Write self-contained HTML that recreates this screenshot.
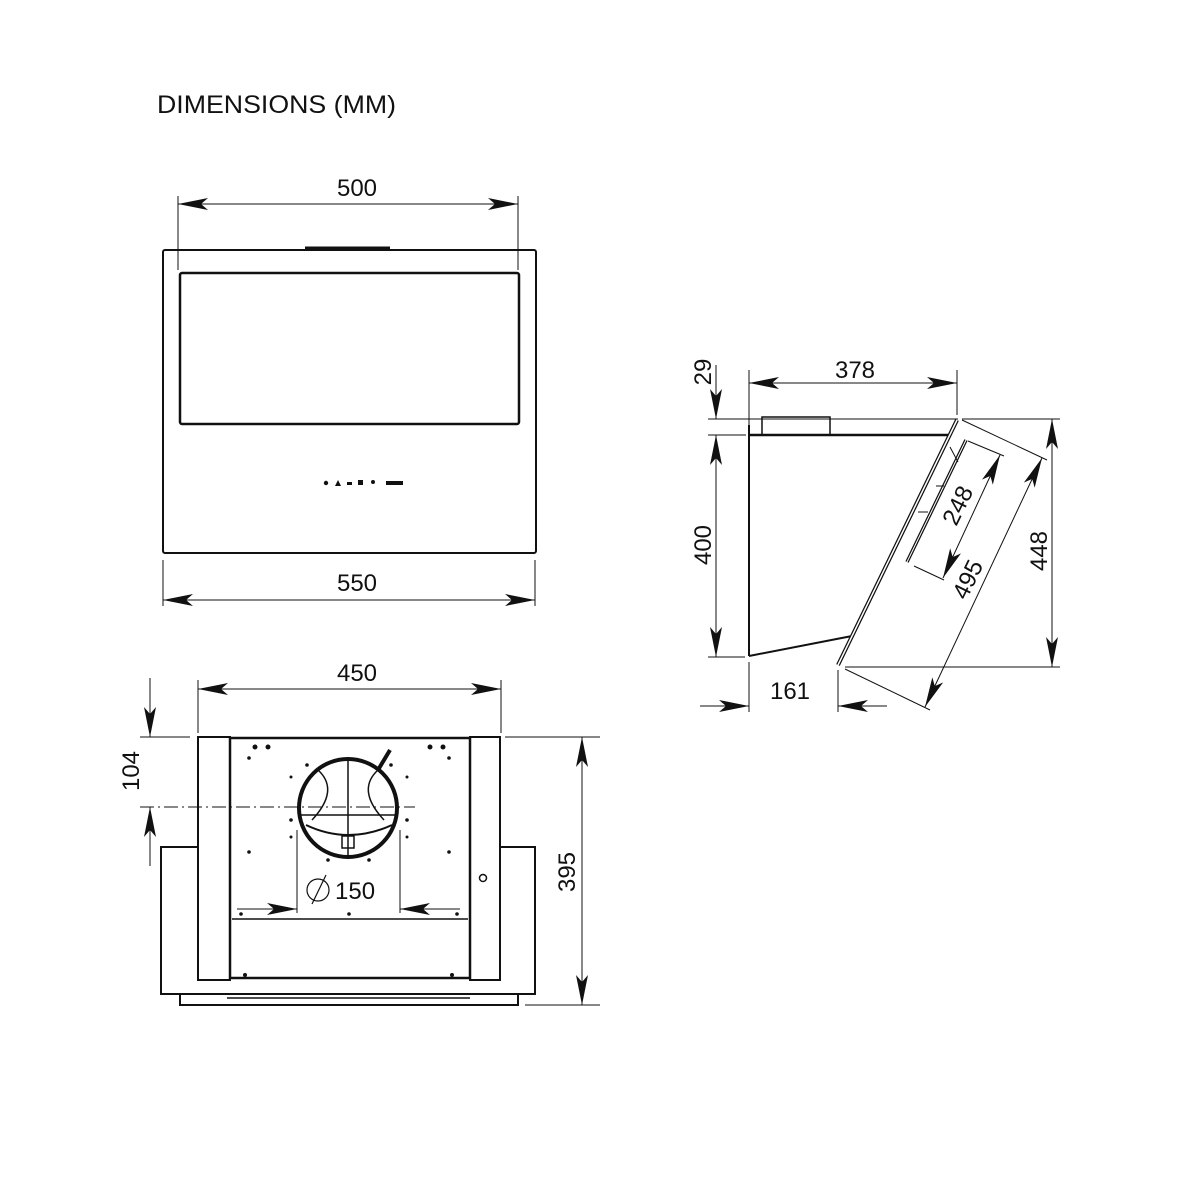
<!DOCTYPE html>
<html><head><meta charset="utf-8"><style>
html,body{margin:0;padding:0;background:#fff;}
svg{display:block;}
text{font-family:"Liberation Sans",sans-serif;fill:#111;}
</style></head><body>
<svg width="1200" height="1200" viewBox="0 0 1200 1200" xmlns="http://www.w3.org/2000/svg">
<defs>
<marker id="a" viewBox="0 0 30 12" refX="30" refY="6" markerWidth="30" markerHeight="12" markerUnits="userSpaceOnUse" orient="auto-start-reverse">
<path d="M0,0 L30,6 L0,12 L7,6 Z" fill="#111"/>
</marker>
</defs>
<text x="157" y="113" font-size="25" textLength="239" lengthAdjust="spacingAndGlyphs">DIMENSIONS (MM)</text>

<g stroke="#111" fill="none">
<rect x="163" y="250" width="373" height="303" rx="2" stroke-width="2"/>
<line x1="305" y1="248" x2="390" y2="248" stroke-width="3"/>
<rect x="180" y="273" width="339" height="151" rx="2" stroke-width="2.5"/>
<line x1="178" y1="196" x2="178" y2="270" stroke-width="1"/>
<line x1="518" y1="196" x2="518" y2="270" stroke-width="1"/>
<line x1="178" y1="204" x2="518" y2="204" stroke-width="1" marker-end="url(#a)" marker-start="url(#a)"/>
<line x1="163" y1="560" x2="163" y2="606" stroke-width="1"/>
<line x1="535" y1="560" x2="535" y2="606" stroke-width="1"/>
<line x1="163" y1="600" x2="535" y2="600" stroke-width="1" marker-end="url(#a)" marker-start="url(#a)"/>
</g>
<g fill="#111">
<circle cx="326" cy="483" r="2.2"/>
<path d="M335,486 L338,480 L341,486 Z"/>
<rect x="347" y="482" width="5" height="3"/>
<rect x="358" y="480" width="5" height="5"/>
<circle cx="373" cy="482" r="2"/>
<rect x="386" y="481" width="17" height="4"/>
</g>
<text x="357" y="196" font-size="24" text-anchor="middle">500</text>
<text x="357" y="591" font-size="24" text-anchor="middle">550</text>

<g stroke="#111" fill="none">
<rect x="161" y="847" width="374" height="147" stroke-width="2"/>
<rect x="180" y="994" width="338" height="11" stroke-width="2"/>
<line x1="227" y1="998" x2="470" y2="998" stroke-width="1.5"/>
<rect x="198" y="737" width="32" height="243" fill="#fff" stroke-width="2"/>
<rect x="470" y="737" width="30" height="243" fill="#fff" stroke-width="2"/>
<rect x="230" y="738" width="240" height="240" fill="#fff" stroke-width="2.5"/>
<line x1="232" y1="919" x2="468" y2="919" stroke-width="1.5"/>
<circle cx="348" cy="808" r="49" stroke-width="4"/>
<line x1="348" y1="759" x2="348" y2="857" stroke-width="1.5"/>
<line x1="301" y1="815" x2="395" y2="815" stroke-width="1.5"/>
<path d="M306,825 Q348,845 392,825" stroke-width="2"/>
<path d="M318,770 Q340,790 312,820 M378,770 Q356,790 384,820" stroke-width="1.5"/>
<rect x="342" y="836" width="12" height="12" stroke-width="1.5"/>
<line x1="378" y1="770" x2="390" y2="750" stroke-width="4"/>
<line x1="140" y1="807" x2="415" y2="807" stroke-width="1" stroke-dasharray="14,4,2,4"/>
<line x1="297" y1="830" x2="297" y2="913" stroke-width="1"/>
<line x1="400" y1="830" x2="400" y2="913" stroke-width="1"/>
<line x1="237" y1="909" x2="297" y2="909" stroke-width="1" marker-end="url(#a)"/>
<line x1="460" y1="909" x2="400" y2="909" stroke-width="1" marker-end="url(#a)"/>
<circle cx="318" cy="890" r="11" stroke-width="1.2"/>
<line x1="312" y1="904" x2="326" y2="875" stroke-width="1.2"/>
<circle cx="483" cy="878" r="3.5" stroke-width="1.5"/>
<line x1="198" y1="680" x2="198" y2="733" stroke-width="1"/>
<line x1="501" y1="680" x2="501" y2="733" stroke-width="1"/>
<line x1="198" y1="689" x2="501" y2="689" stroke-width="1" marker-end="url(#a)" marker-start="url(#a)"/>
<line x1="140" y1="737" x2="190" y2="737" stroke-width="1"/>
<line x1="150" y1="678" x2="150" y2="737" stroke-width="1" marker-end="url(#a)"/>
<line x1="150" y1="866" x2="150" y2="807" stroke-width="1" marker-end="url(#a)"/>
<line x1="505" y1="737" x2="600" y2="737" stroke-width="1"/>
<line x1="525" y1="1005" x2="600" y2="1005" stroke-width="1"/>
<line x1="582" y1="737" x2="582" y2="1005" stroke-width="1" marker-end="url(#a)" marker-start="url(#a)"/>
</g>
<g fill="#111">
<circle cx="255" cy="747" r="2.5"/><circle cx="268" cy="747" r="2.5"/>
<circle cx="430" cy="747" r="2.5"/><circle cx="443" cy="747" r="2.5"/>
<circle cx="249" cy="758" r="1.8"/><circle cx="449" cy="758" r="1.8"/>
<circle cx="307" cy="765" r="1.8"/><circle cx="391" cy="765" r="1.8"/>
<circle cx="291" cy="777" r="1.5"/><circle cx="407" cy="777" r="1.5"/>
<circle cx="291" cy="820" r="1.8"/><circle cx="407" cy="820" r="1.8"/>
<circle cx="291" cy="837" r="1.5"/><circle cx="407" cy="837" r="1.5"/>
<circle cx="249" cy="852" r="1.8"/><circle cx="449" cy="852" r="1.8"/>
<circle cx="328" cy="860" r="1.8"/><circle cx="369" cy="860" r="1.8"/>
<circle cx="241" cy="914" r="1.8"/><circle cx="349" cy="914" r="1.8"/><circle cx="457" cy="914" r="1.8"/>
<circle cx="245" cy="975" r="2"/><circle cx="452" cy="975" r="2"/>
</g>
<text x="357" y="681" font-size="24" text-anchor="middle">450</text>
<text x="335" y="899" font-size="24">150</text>
<text transform="translate(139,771) rotate(-90)" font-size="24" text-anchor="middle">104</text>
<text transform="translate(575,872) rotate(-90)" font-size="24" text-anchor="middle">395</text>

<g stroke="#111" fill="none">
<rect x="762" y="417" width="68" height="18" stroke-width="1.5"/>
<line x1="749" y1="435" x2="948" y2="435" stroke-width="2.5"/>
<line x1="749" y1="425" x2="749" y2="656" stroke-width="2"/>
<line x1="749" y1="656" x2="852" y2="636" stroke-width="2"/>
<line x1="957" y1="420" x2="838" y2="665" stroke-width="4"/>
<line x1="957" y1="420" x2="838" y2="665" stroke="#fff" stroke-width="1.5"/>
<line x1="966" y1="440" x2="907" y2="562" stroke-width="3.5"/>
<line x1="966" y1="440" x2="907" y2="562" stroke="#fff" stroke-width="1"/>
<line x1="950" y1="447" x2="958" y2="462" stroke-width="1"/>
<line x1="936" y1="486" x2="944" y2="486" stroke-width="1"/>
<line x1="918" y1="512" x2="928" y2="512" stroke-width="1"/>
<line x1="749" y1="370" x2="749" y2="430" stroke-width="1"/>
<line x1="957" y1="370" x2="957" y2="415" stroke-width="1"/>
<line x1="749" y1="383" x2="957" y2="383" stroke-width="1" marker-end="url(#a)" marker-start="url(#a)"/>
<line x1="708" y1="419" x2="958" y2="419" stroke-width="1"/>
<line x1="962" y1="419" x2="1060" y2="419" stroke-width="1"/>
<line x1="708" y1="435" x2="746" y2="435" stroke-width="1"/>
<line x1="708" y1="657" x2="745" y2="657" stroke-width="1"/>
<line x1="716" y1="365" x2="716" y2="419" stroke-width="1" marker-end="url(#a)"/>
<line x1="716" y1="435" x2="716" y2="657" stroke-width="1" marker-end="url(#a)" marker-start="url(#a)"/>
<line x1="845" y1="667" x2="1060" y2="667" stroke-width="1"/>
<line x1="1052" y1="419" x2="1052" y2="667" stroke-width="1" marker-end="url(#a)" marker-start="url(#a)"/>
<line x1="749" y1="662" x2="749" y2="712" stroke-width="1"/>
<line x1="838" y1="670" x2="838" y2="712" stroke-width="1"/>
<line x1="700" y1="706" x2="749" y2="706" stroke-width="1" marker-end="url(#a)"/>
<line x1="887" y1="706" x2="838" y2="706" stroke-width="1" marker-end="url(#a)"/>
<line x1="962" y1="420" x2="1047" y2="460" stroke-width="1"/>
<line x1="845" y1="669" x2="930" y2="710" stroke-width="1"/>
<line x1="1042" y1="458" x2="925" y2="707" stroke-width="1" marker-end="url(#a)" marker-start="url(#a)"/>
<line x1="968" y1="441" x2="1004" y2="456" stroke-width="1"/>
<line x1="914" y1="566" x2="944" y2="580" stroke-width="1"/>
<line x1="1000" y1="455" x2="943" y2="578" stroke-width="1" marker-end="url(#a)" marker-start="url(#a)"/>
</g>
<text x="855" y="378" font-size="24" text-anchor="middle">378</text>
<text transform="translate(711,372) rotate(-90)" font-size="24" text-anchor="middle">29</text>
<text transform="translate(711,545) rotate(-90)" font-size="24" text-anchor="middle">400</text>
<text transform="translate(1047,551) rotate(-90)" font-size="24" text-anchor="middle">448</text>
<text x="790" y="699" font-size="24" text-anchor="middle">161</text>
<text transform="translate(975,583) rotate(-64)" font-size="24" text-anchor="middle">495</text>
<text transform="translate(965,509) rotate(-64)" font-size="24" text-anchor="middle">248</text>
</svg>
</body></html>
